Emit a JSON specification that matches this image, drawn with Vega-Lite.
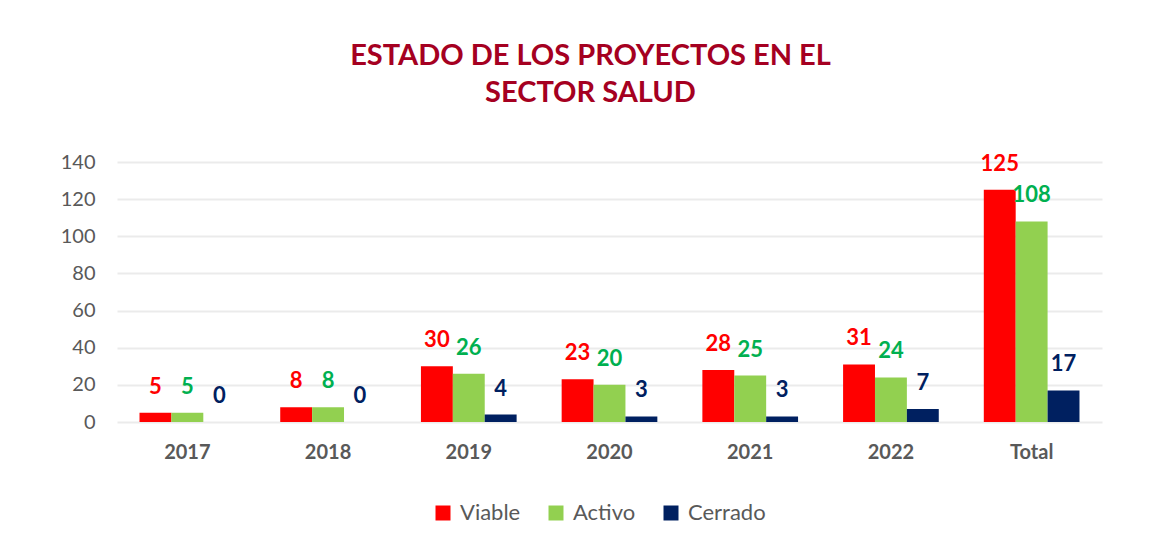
{
  "$schema": "https://vega.github.io/schema/vega-lite/v6.json",
  "autosize": "none",
  "width": 985,
  "height": 260,
  "padding": {"left": 117, "top": 162, "right": 64, "bottom": 123},
  "background": "white",
  "config": {
    "font": "Lato",
    "view": {"stroke": null}
  },
  "title": {
    "text": ["ESTADO DE LOS PROYECTOS EN EL", "SECTOR SALUD"],
    "color": "#A50021",
    "fontSize": 29,
    "fontWeight": "bold",
    "font": "Lato",
    "lineHeight": 37,
    "anchor": "middle",
    "dx": -19,
    "offset": 44
  },
  "data": {
    "values": [
      {"anio": "2017", "serie": "Viable", "valor": 5},
      {"anio": "2017", "serie": "Activo", "valor": 5},
      {"anio": "2017", "serie": "Cerrado", "valor": 0},
      {"anio": "2018", "serie": "Viable", "valor": 8},
      {"anio": "2018", "serie": "Activo", "valor": 8},
      {"anio": "2018", "serie": "Cerrado", "valor": 0},
      {"anio": "2019", "serie": "Viable", "valor": 30},
      {"anio": "2019", "serie": "Activo", "valor": 26},
      {"anio": "2019", "serie": "Cerrado", "valor": 4},
      {"anio": "2020", "serie": "Viable", "valor": 23},
      {"anio": "2020", "serie": "Activo", "valor": 20},
      {"anio": "2020", "serie": "Cerrado", "valor": 3},
      {"anio": "2021", "serie": "Viable", "valor": 28},
      {"anio": "2021", "serie": "Activo", "valor": 25},
      {"anio": "2021", "serie": "Cerrado", "valor": 3},
      {"anio": "2022", "serie": "Viable", "valor": 31},
      {"anio": "2022", "serie": "Activo", "valor": 24},
      {"anio": "2022", "serie": "Cerrado", "valor": 7},
      {"anio": "Total", "serie": "Viable", "valor": 125},
      {"anio": "Total", "serie": "Activo", "valor": 108},
      {"anio": "Total", "serie": "Cerrado", "valor": 17}
    ]
  },
  "encoding": {
    "x": {
      "field": "anio",
      "type": "nominal",
      "sort": null,
      "scale": {"paddingInner": 0.32, "paddingOuter": 0.16},
      "axis": {
        "title": null,
        "labelAngle": 0,
        "labelFontSize": 20,
        "labelFontWeight": "bold",
        "labelColor": "#595959",
        "labelPadding": 20,
        "ticks": false,
        "domain": false
      }
    },
    "xOffset": {
      "field": "serie",
      "type": "nominal",
      "sort": ["Viable", "Activo", "Cerrado"],
      "scale": {"domain": ["Viable", "Activo", "Cerrado"], "paddingInner": 0, "paddingOuter": 0}
    },
    "y": {
      "field": "valor",
      "type": "quantitative",
      "scale": {"domain": [0, 140]},
      "axis": {
        "title": null,
        "values": [0, 20, 40, 60, 80, 100, 120, 140],
        "labelFontSize": 20,
        "labelColor": "#595959",
        "labelPadding": 22,
        "ticks": false,
        "domain": false,
        "gridColor": "#EBEBEB",
        "gridWidth": 2
      }
    }
  },
  "layer": [
    {
      "mark": {"type": "bar"},
      "encoding": {
        "color": {
          "field": "serie",
          "type": "nominal",
          "scale": {"domain": ["Viable", "Activo", "Cerrado"], "range": ["#FF0000", "#92D050", "#002060"]},
          "legend": {
            "title": null,
            "orient": "none",
            "direction": "horizontal",
            "legendX": 315,
            "legendY": 340,
            "symbolType": "square",
            "symbolSize": 225,
            "symbolStrokeWidth": 0,
            "labelFontSize": 22,
            "labelColor": "#595959",
            "labelOffset": 6,
            "columnPadding": 24
          }
        }
      }
    },
    {
      "mark": {"type": "text", "fontSize": 22, "fontWeight": "bold", "baseline": "bottom", "dy": -14},
      "encoding": {
        "text": {"field": "valor", "type": "quantitative"},
        "color": {
          "condition": [
            {"test": "datum.serie === 'Viable'", "value": "#FF0000"},
            {"test": "datum.serie === 'Activo'", "value": "#00B050"}
          ],
          "value": "#002060"
        }
      }
    }
  ]
}
